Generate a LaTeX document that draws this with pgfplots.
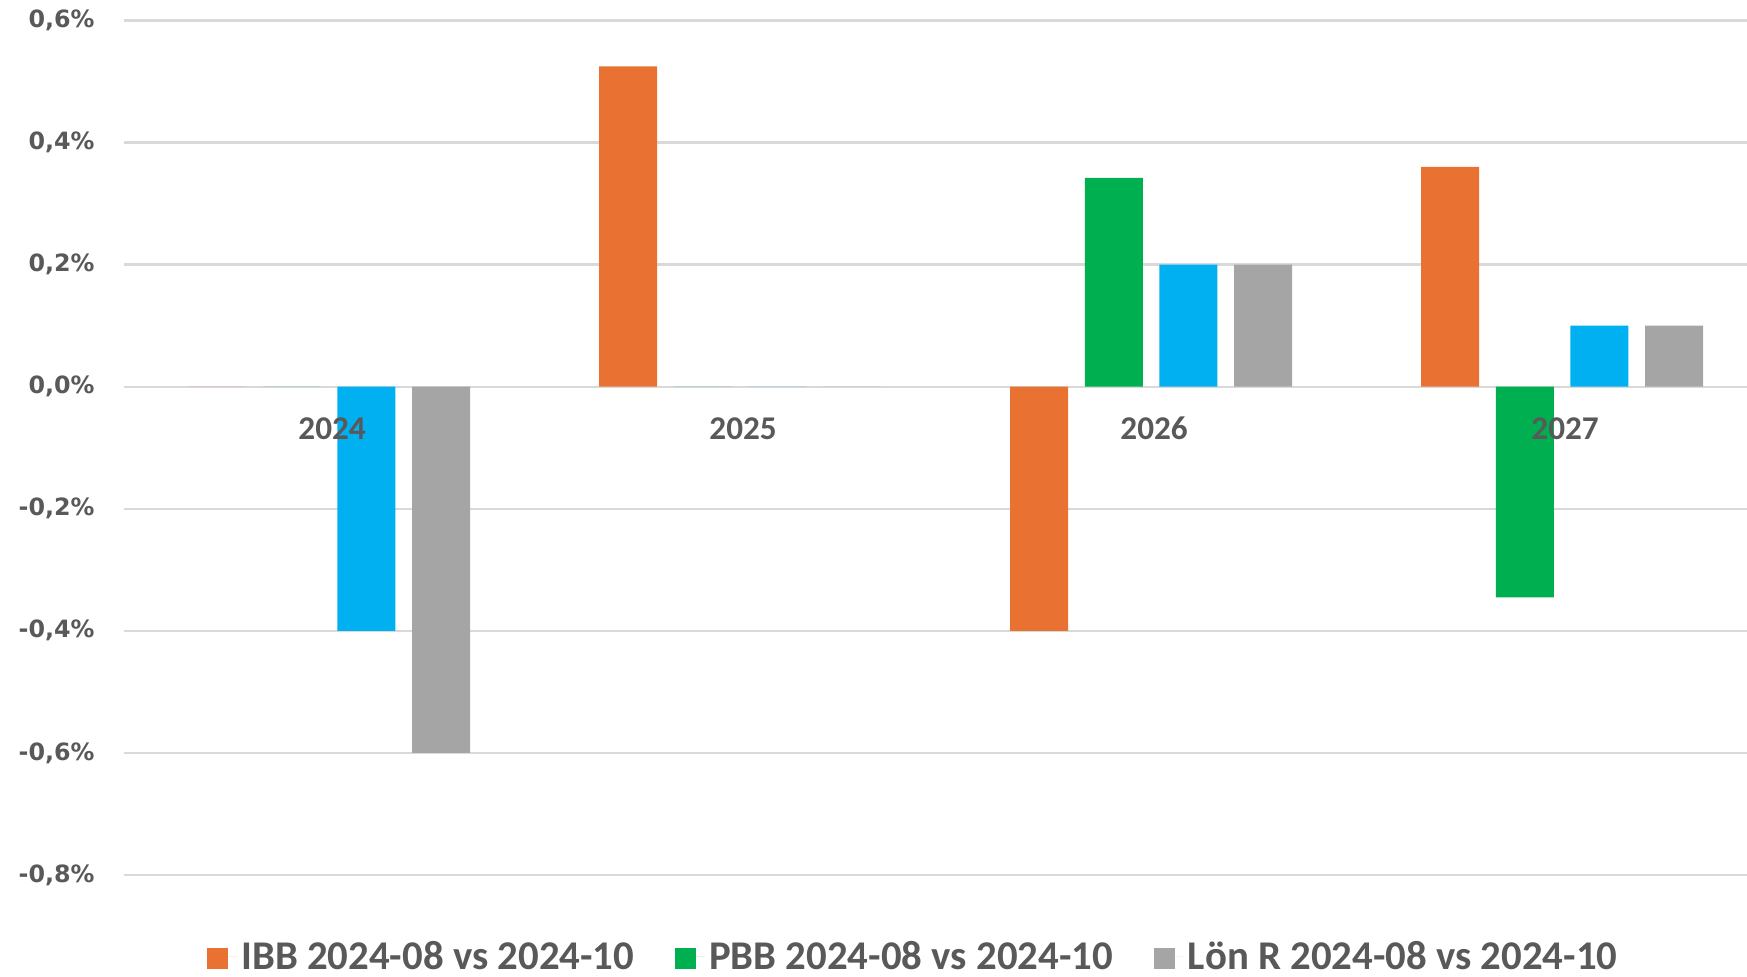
\documentclass[border=0pt]{standalone}
\usepackage{pgfplots}
\pgfplotsset{compat=1.18}
\usepackage{fontspec}
\setmainfont{Carlito}
\newfontfamily\dejavu{DejaVu Sans}
\definecolor{cOrange}{HTML}{E97132}
\definecolor{cGreen}{HTML}{00B050}
\definecolor{cBlue}{HTML}{00B0F0}
\definecolor{cGray}{HTML}{A5A5A5}
\definecolor{cGrid}{HTML}{D9D9D9}
\definecolor{cText}{HTML}{595959}
\pgfplotsset{
  mybar/.style={ybar, bar width=0.141, draw=none,
    legend image code/.code={\fill[##1] (0pt,-6pt) rectangle (10.5pt,4.5pt); \path (10.5pt,0pt) -- (15pt,0pt);}},
  common/.style={
    at={(0,0)}, anchor=south west,
    scale only axis, width=822pt, height=427.25pt,
    xmin=-0.5, xmax=3.5, ymin=-0.8, ymax=0.6,
    axis x line*=middle,
    axis line style={draw=none},
    major tick length=0pt, tick style={draw=none},
  },
}
\begin{document}
\begin{tikzpicture}
\path[use as bounding box] (-61.8pt,-51pt) rectangle (811.7pt,437.5pt);
\begin{axis}[
  common,
  xtick={0,1,2,3}, xticklabels={},
  ytick={-0.8,-0.6,-0.4,-0.2,0,0.2,0.4,0.6},
  yticklabels={{-0,8\%},{-0,6\%},{-0,4\%},{-0,2\%},{0,0\%},{0,2\%},{0,4\%},{0,6\%}},
  ymajorgrids, grid style={cGrid, line width=1.2pt},
  yticklabel style={font=\dejavu\bfseries\fontsize{11.9}{14}\selectfont, text=cText, anchor=east, xshift=-11pt},
  legend style={at={(0.481,-0.0955)}, anchor=center, draw=none, fill=none,
    font=\bfseries\fontsize{20.4}{24}\selectfont, text=cText,
    /tikz/every even column/.append style={column sep=18.5pt}},
  legend columns=3,
]
\addplot[mybar, fill=cOrange, bar shift=-0.2724] coordinates {(0,0) (1,0.525) (2,-0.4) (3,0.36)};
\addlegendentry{IBB 2024-08 vs 2024-10}
\addplot[mybar, fill=cGreen, bar shift=-0.0908] coordinates {(0,0) (1,0) (2,0.342) (3,-0.345)};
\addlegendentry{PBB 2024-08 vs 2024-10}
\addplot[mybar, fill=cBlue, bar shift=0.0908, forget plot] coordinates {(0,-0.4) (1,0) (2,0.2) (3,0.1)};
\addplot[mybar, fill=cGray, bar shift=0.2724] coordinates {(0,-0.6) (1,0) (2,0.2) (3,0.1)};
\addlegendentry{Lön R 2024-08 vs 2024-10}
\end{axis}
\begin{axis}[
  common,
  axis y line=none,
  ytick=\empty,
  xtick={0,1,2,3}, xticklabels={2024,2025,2026,2027},
  xticklabel style={font=\bfseries\fontsize{16.6}{20}\selectfont, text=cText, anchor=center, xshift=1.5pt, yshift=-21pt},
]
\end{axis}
\end{tikzpicture}
\end{document}
